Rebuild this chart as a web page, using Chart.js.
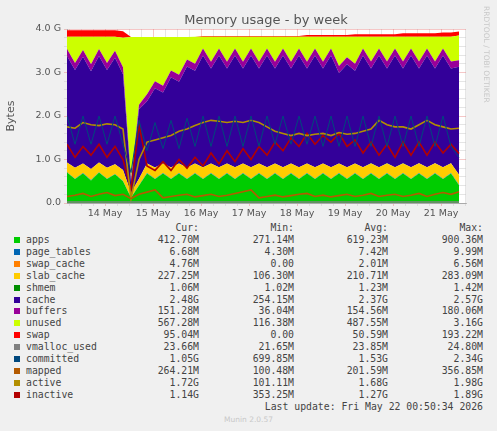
<!DOCTYPE html>
<html>
<head>
<meta charset="utf-8">
<script src="https://cdn.jsdelivr.net/npm/chart.js@4/dist/chart.umd.min.js"></script>
<style>
  body { margin: 0; background: #f0f0f0; width: 497px; height: 431px; overflow: hidden; position: relative; }
  #wrap { position: absolute; left: 0; top: 0; width: 497px; height: 222px; }
  .t { position: absolute; font-family: "DejaVu Sans Mono", monospace; font-size: 9.8px; color: #444; white-space: pre; line-height: 12px; }
  .r { text-align: right; }
  .sw { position: absolute; width: 6px; height: 6px; }
</style>
</head>
<body>
<div id="wrap"><canvas id="grafica"></canvas></div>
<div id="leyenda"></div>
<script>
// hora de cada muestra (0 = inicio del gráfico), cada 4 h
const horas = [0,4,8,12,16,20,24,28,32,36,40,44,48,52,56,60,64,68,72,76,80,84,88,92,96,100,104,108,112,116,120,124,128,132,136,140,144,148,152,156,160,164,168,172,176,180,184,188,192,196];
const dias = ['14 May','15 May','16 May','17 May','18 May','19 May','20 May','21 May'];

// valores en GB
const apps = [0.70,0.55,0.68,0.52,0.70,0.55,0.66,0.50,0.12,0.40,0.68,0.55,0.68,0.55,0.68,0.55,0.68,0.55,0.68,0.55,0.68,0.55,0.68,0.55,0.68,0.55,0.68,0.55,0.68,0.55,0.68,0.55,0.68,0.55,0.68,0.55,0.68,0.55,0.68,0.55,0.68,0.55,0.68,0.55,0.68,0.55,0.68,0.55,0.68,0.41];
const page_tables = [0.007,0.007,0.007,0.007,0.007,0.007,0.007,0.007,0.004,0.006,0.007,0.007,0.007,0.007,0.007,0.007,0.007,0.007,0.007,0.007,0.007,0.007,0.007,0.007,0.007,0.007,0.007,0.007,0.007,0.007,0.007,0.007,0.007,0.007,0.007,0.007,0.007,0.007,0.007,0.007,0.007,0.007,0.007,0.007,0.007,0.007,0.007,0.007,0.007,0.007];
const swap_cache = [0.002,0.002,0.002,0.002,0.002,0.002,0.002,0.002,0,0,0,0,0,0,0,0,0.001,0.001,0.002,0.002,0.002,0.002,0.002,0.002,0.002,0.002,0.002,0.002,0.002,0.002,0.002,0.002,0.002,0.002,0.002,0.002,0.002,0.002,0.003,0.003,0.003,0.003,0.003,0.003,0.004,0.004,0.004,0.005,0.005,0.005];
const slab_cache = [0.22,0.25,0.22,0.25,0.22,0.25,0.22,0.25,0.11,0.15,0.22,0.26,0.22,0.26,0.22,0.26,0.22,0.26,0.22,0.26,0.22,0.26,0.22,0.26,0.22,0.26,0.22,0.26,0.22,0.26,0.22,0.26,0.22,0.26,0.22,0.26,0.22,0.26,0.22,0.26,0.22,0.26,0.22,0.26,0.22,0.26,0.22,0.26,0.22,0.227];
const shmem = [0.001,0.001,0.001,0.001,0.001,0.001,0.001,0.001,0.001,0.001,0.001,0.001,0.001,0.001,0.001,0.001,0.001,0.001,0.001,0.001,0.001,0.001,0.001,0.001,0.001,0.001,0.001,0.001,0.001,0.001,0.001,0.001,0.001,0.001,0.001,0.001,0.001,0.001,0.001,0.001,0.001,0.001,0.001,0.001,0.001,0.001,0.001,0.001,0.001,0.001];
const cache = [2.45,2.25,2.45,2.25,2.45,2.25,2.45,2.20,0.25,1.60,1.43,1.82,1.63,2.07,1.88,2.32,2.13,2.57,2.18,2.57,2.18,2.57,2.18,2.57,2.18,2.57,2.18,2.57,2.18,2.57,2.18,2.57,2.18,2.57,2.08,2.37,2.13,2.57,2.18,2.57,2.18,2.57,2.18,2.57,2.18,2.57,2.18,2.57,2.18,2.48];
const buffers = [0.16,0.16,0.16,0.16,0.16,0.16,0.16,0.16,0.04,0.10,0.16,0.16,0.16,0.16,0.16,0.16,0.16,0.16,0.16,0.16,0.16,0.16,0.16,0.16,0.16,0.16,0.16,0.16,0.16,0.16,0.16,0.16,0.16,0.16,0.16,0.16,0.16,0.16,0.16,0.16,0.16,0.16,0.16,0.16,0.16,0.16,0.16,0.16,0.16,0.151];
const unused = [0.28,0.60,0.30,0.63,0.28,0.60,0.32,0.68,3.29,1.56,1.32,1.02,1.12,0.77,0.87,0.52,0.62,0.27,0.57,0.27,0.57,0.27,0.57,0.27,0.57,0.27,0.57,0.27,0.57,0.27,0.57,0.27,0.57,0.27,0.67,0.47,0.62,0.27,0.57,0.27,0.57,0.27,0.57,0.27,0.57,0.27,0.57,0.27,0.57,0.567];
const swap = [0.15,0.15,0.15,0.15,0.15,0.15,0.15,0.15,0,0,0,0,0,0,0,0,0,0.02,0.02,0.02,0.02,0.02,0.02,0.02,0.02,0.02,0.02,0.02,0.02,0.02,0.04,0.04,0.04,0.04,0.04,0.04,0.06,0.06,0.06,0.06,0.06,0.06,0.08,0.08,0.08,0.08,0.08,0.095,0.095,0.095];
const vmalloc_used = [0.024,0.024,0.024,0.024,0.024,0.024,0.024,0.024,0.022,0.023,0.024,0.024,0.024,0.024,0.024,0.024,0.024,0.024,0.024,0.024,0.024,0.024,0.024,0.024,0.024,0.024,0.024,0.024,0.024,0.024,0.024,0.024,0.024,0.024,0.024,0.024,0.024,0.024,0.024,0.024,0.024,0.024,0.024,0.024,0.024,0.024,0.024,0.024,0.024,0.024];
const committed = [2.00,1.35,2.00,1.35,2.00,1.35,2.00,1.35,0.70,1.90,1.20,1.85,1.25,1.90,1.25,1.95,1.30,2.00,1.30,2.00,1.30,2.00,1.30,2.00,1.30,2.00,1.35,2.00,1.35,2.00,1.35,2.00,1.30,2.00,1.30,2.00,1.30,2.00,1.30,2.00,1.30,2.00,1.30,2.00,1.30,2.00,1.30,2.00,1.30,1.05];
const mapped = [0.15,0.18,0.22,0.15,0.20,0.24,0.17,0.20,0.10,0.20,0.25,0.30,0.12,0.15,0.18,0.20,0.14,0.17,0.20,0.15,0.18,0.22,0.26,0.30,0.12,0.15,0.18,0.14,0.17,0.20,0.22,0.15,0.18,0.14,0.17,0.20,0.15,0.18,0.22,0.15,0.18,0.20,0.15,0.18,0.22,0.15,0.20,0.24,0.20,0.26];
const active = [1.75,1.72,1.85,1.80,1.78,1.82,1.80,1.70,0.10,1.00,1.40,1.45,1.50,1.55,1.65,1.70,1.78,1.85,1.90,1.88,1.85,1.88,1.85,1.90,1.85,1.75,1.65,1.60,1.55,1.60,1.55,1.58,1.60,1.55,1.62,1.58,1.60,1.65,1.70,1.90,1.80,1.75,1.75,1.70,1.80,1.90,1.80,1.75,1.70,1.72];
const inactive = [1.35,1.05,1.30,1.10,1.35,1.05,1.30,1.00,0.30,1.80,0.85,0.75,0.95,0.75,1.00,0.80,1.05,0.85,1.15,0.90,1.20,0.95,1.25,1.00,1.30,1.10,1.40,1.20,1.50,1.30,1.60,1.35,1.55,1.40,1.60,1.30,1.45,1.15,1.40,1.10,1.35,1.05,1.40,1.10,1.40,1.10,1.40,1.15,1.35,1.14];

// tabla de la leyenda
const nombres = ['apps','page_tables','swap_cache','slab_cache','shmem','cache','buffers','unused','swap','vmalloc_used','committed','mapped','active','inactive'];
const colores = ['#00cc00','#0066b3','#ff8000','#ffcc00','#008f00','#330099','#990099','#ccff00','#ff0000','#808080','#00487d','#b35a00','#b38f00','#b30000'];
const cur = ['412.70M','6.68M','4.76M','227.25M','1.06M','2.48G','151.28M','567.28M','95.04M','23.66M','1.05G','264.21M','1.72G','1.14G'];
const min = ['271.14M','4.30M','0.00','106.30M','1.02M','254.15M','36.04M','116.38M','0.00','21.65M','699.85M','100.48M','101.11M','353.25M'];
const avg = ['619.23M','7.42M','2.01M','210.71M','1.23M','2.37G','154.56M','487.55M','50.59M','23.85M','1.53G','201.59M','1.68G','1.27G'];
const max = ['900.36M','9.99M','6.56M','283.09M','1.42M','2.57G','180.06M','3.16G','193.22M','24.80M','2.34G','356.85M','1.98G','1.89G'];

const apilados = [apps, page_tables, swap_cache, slab_cache, shmem, cache, buffers, unused, swap];
const lineas = [vmalloc_used, committed, mapped, active, inactive];

const pts = arr => arr.map((v, i) => ({ x: horas[i], y: v }));
const datasets = [];
apilados.forEach((arr, k) => {
    datasets.push({
        label: nombres[k], data: pts(arr), stack: 'mem', order: 2,
        backgroundColor: colores[k], borderColor: colores[k], borderWidth: 0,
        fill: k === 0 ? 'origin' : '-1', pointRadius: 0, tension: 0
    });
});
lineas.forEach((arr, k) => {
    const j = k + apilados.length;
    datasets.push({
        label: nombres[j], data: pts(arr), stack: 'l' + k, order: 1,
        borderColor: colores[j], borderWidth: j === 10 ? 1 : 1.6,
        fill: false, pointRadius: 0, tension: 0
    });
});

const fondo = {
    id: 'fondo',
    beforeDatasetsDraw(c) {
        // nada: el fondo blanco se pinta antes de la rejilla
    },
    beforeDraw(c) {
        const a = c.chartArea, ctx = c.ctx;
        ctx.save();
        ctx.fillStyle = '#ffffff';
        ctx.fillRect(a.left, a.top, a.right - a.left, a.bottom - a.top);
        ctx.restore();
    },
    afterDraw(c) {
        const ctx = c.ctx;
        ctx.save();
        ctx.fillStyle = '#555';
        ctx.font = '13px "DejaVu Sans"';
        ctx.textAlign = 'center';
        ctx.fillText('Memory usage - by week', 266, 24);
        ctx.font = '11px "DejaVu Sans"';
        ctx.translate(14, 116);
        ctx.rotate(-Math.PI / 2);
        ctx.fillText('Bytes', 0, 0);
        ctx.restore();
        ctx.save();
        ctx.fillStyle = '#c8c8c8';
        ctx.font = '7.5px "DejaVu Sans"';
        ctx.translate(484, 6);
        ctx.rotate(Math.PI / 2);
        ctx.fillText('RRDTOOL / TOBI OETIKER', 0, 0);
        ctx.restore();
    }
};

new Chart(document.getElementById('grafica'), {
    type: 'line',
    data: { datasets },
    plugins: [fondo],
    options: {
        responsive: true, maintainAspectRatio: false, animation: false,
        layout: { padding: { top: 29, right: 31, left: 0, bottom: 0 } },
        plugins: { legend: { display: false }, tooltip: { enabled: false } },
        scales: {
            x: {
                type: 'linear', min: 0, max: 199.5,
                afterBuildTicks: ax => {
                    const t = [];
                    for (let h = 1; h < 199.5; h += 6) t.push({ value: h });
                    ax.ticks = t;
                },
                afterFit: ax => { ax.height = 19; },
                ticks: {
                    autoSkip: false, maxRotation: 0, color: '#555', padding: 2,
                    font: { family: 'DejaVu Sans', size: 9.5 },
                    callback: v => ((v - 19) % 24 === 0 && v >= 19) ? dias[(v - 19) / 24] : ''
                },
                grid: {
                    color: c => (c.tick && (c.tick.value - 19) % 24 === 0) ? 'rgba(230,120,120,0.7)' : 'rgba(200,200,200,0.8)',
                    lineWidth: 0.6, tickLength: 3, drawTicks: true
                },
                border: { display: true, color: '#aaa', dash: [] }
            },
            y: {
                stacked: true, min: 0, max: 4,
                afterFit: ax => { ax.width = 67; },
                ticks: {
                    stepSize: 0.2, autoSkip: false, color: '#555',
                    font: { family: 'DejaVu Sans', size: 9.5 },
                    callback: v => Math.abs(v - Math.round(v)) < 1e-6 ? (v === 0 ? '0.0' : Math.round(v).toFixed(1) + ' G') : ''
                },
                grid: {
                    color: c => (c.tick && Math.abs(c.tick.value - Math.round(c.tick.value)) < 1e-6) ? 'rgba(230,120,120,0.7)' : 'rgba(200,200,200,0.8)',
                    lineWidth: 0.6, tickLength: 3
                },
                border: { display: true, color: '#aaa' }
            }
        }
    }
});

// leyenda en texto
const ley = document.getElementById('leyenda');
let html = '';
const cab = ['Cur:', 'Min:', 'Avg:', 'Max:'];
const dchas = [199, 294, 388, 483];
cab.forEach((s, i) => { html += `<div class="t r" style="top:222px;right:${497 - dchas[i]}px">${s}</div>`; });
nombres.forEach((n, i) => {
    const y = 234 + i * 11.9;
    html += `<div class="sw" style="left:14px;top:${y + 3}px;background:${colores[i]}"></div>`;
    html += `<div class="t" style="left:26px;top:${y}px">${n}</div>`;
    [cur, min, avg, max].forEach((col, k) => {
        html += `<div class="t r" style="top:${y}px;right:${497 - dchas[k]}px">${col[i]}</div>`;
    });
});
html += `<div class="t r" style="top:401px;right:14px">Last update: Fri May 22 00:50:34 2026</div>`;
html += `<div class="t" style="top:414px;left:0;width:497px;text-align:center;color:#c8c8c8;font-family:'DejaVu Sans';font-size:7.5px">Munin 2.0.57</div>`;
ley.innerHTML = html;
</script>
</body>
</html>
